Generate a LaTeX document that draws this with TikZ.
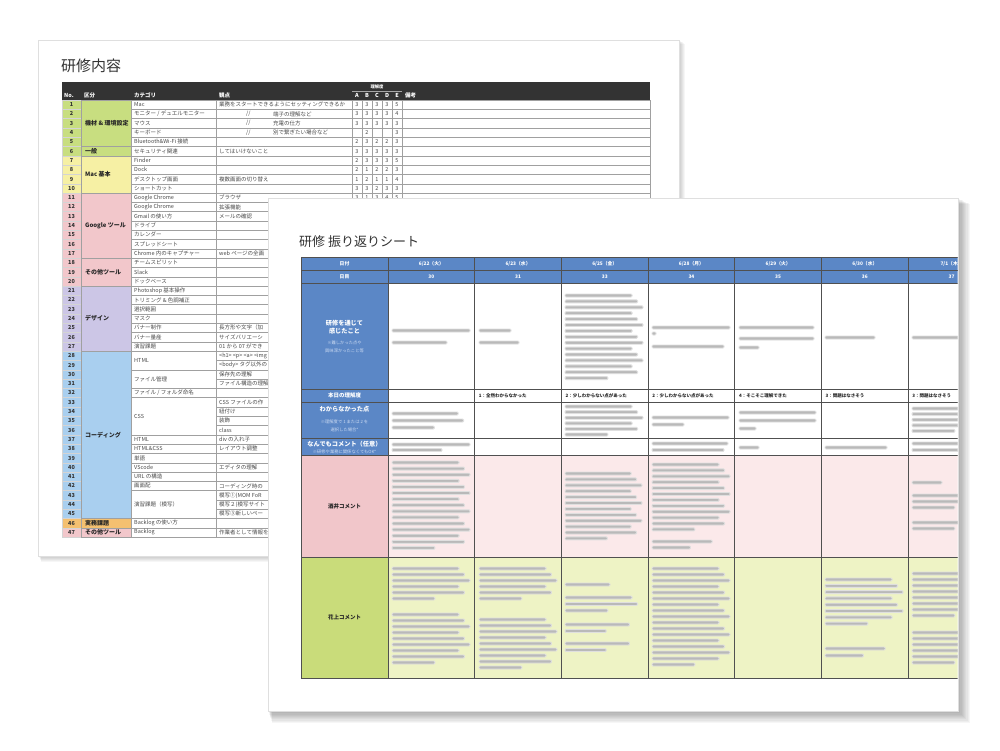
\documentclass[tikz,border=0pt]{standalone}
\usepackage{fontspec}
\setmainfont{Noto Sans CJK JP}
\usetikzlibrary{positioning}

\definecolor{hdrdark}{HTML}{333333}
\definecolor{kgreen}{HTML}{C8DE80}
\definecolor{kyellow}{HTML}{F6F0A4}
\definecolor{kpink}{HTML}{F2C7CB}
\definecolor{klav}{HTML}{CCC6E6}
\definecolor{kblue}{HTML}{A9CFEF}
\definecolor{korange}{HTML}{F4C070}
\definecolor{sblue}{HTML}{5B87C6}
\definecolor{spink}{HTML}{F1C6CA}
\definecolor{spinklt}{HTML}{FBE9EA}
\definecolor{sgreen}{HTML}{C9DC7A}
\definecolor{sgreenlt}{HTML}{EEF3C5}
\definecolor{gridc}{HTML}{A0A0A0}
\definecolor{linec}{HTML}{505050}
\definecolor{txtc}{HTML}{4A4A4A}
\definecolor{noteblue}{HTML}{CBDAF2}

\newcommand{\blurl}[3]{\fill[blurtxt] ({#1},{#2}) rectangle ++({#3},3);}
\newcommand{\blurpar}[5]{%
  \foreach \q in {1,...,#3}{%
    \pgfmathsetmacro\bw{\q==#3 ? 0.55*#5 : #5*(1-0.07*mod(\q*5,3))}%
    \blurl{#1}{#2+(\q-1)*#4}{\bw}}}

\begin{document}
\begin{tikzpicture}[x=1pt, y=-1pt,
    paper/.style={fill=white, draw=gray!25, line width=0.4pt},
    btitle/.style={anchor=west, inner sep=0, text=black!80, font=\fontsize{15}{16}\selectfont},
    ftitle/.style={anchor=west, inner sep=0, text=black!80, font=\fontsize{13}{14}\selectfont},
    hdrtxt/.style={anchor=west, inner sep=0, text=white, font=\fontsize{5.5}{6}\selectfont\bfseries},
    hdrsm/.style={inner sep=0, text=white, font=\fontsize{4.3}{5}\selectfont\bfseries},
    celltxt/.style={anchor=west, inner sep=0, text=txtc, font=\fontsize{5.5}{6}\selectfont},
    numtxt/.style={inner sep=0, text=black!80, font=\fontsize{5.5}{6}\selectfont\bfseries},
    kbtxt/.style={anchor=west, inner sep=0, text=black!85, font=\fontsize{6}{7}\selectfont\bfseries},
    abtxt/.style={inner sep=0, text=txtc, font=\fontsize{5.5}{6}\selectfont},
    gridb/.style={draw=gridc, line width=0.35pt},
    gridf/.style={draw=linec, line width=0.7pt},
    shdr/.style={inner sep=0, text=white, font=\fontsize{4.8}{5}\selectfont\bfseries},
    slabel/.style={inner sep=0, text=white, align=center, font=\fontsize{6.2}{8}\selectfont\bfseries},
    snote/.style={inner sep=0, text=noteblue, align=center, font=\fontsize{4.3}{8}\selectfont},
    sdark/.style={inner sep=0, text=black!85, font=\fontsize{5.5}{6}\selectfont\bfseries},
    lvl/.style={anchor=west, inner sep=0, text=black!85, font=\fontsize{4.5}{5}\selectfont\bfseries},
    blurtxt/.style={fill=gray!55, draw=gray!25, line width=0.9pt, rounded corners=1pt}
]
\useasboundingbox (0,0) rectangle (1000,750);
\fill[white] (0,0) rectangle (1000,750);

% back sheet
\foreach \s in {1,...,6}
  \fill[black, opacity=0.035] ({38+0.5*\s},{40+0.6*\s}) rectangle ({679+\s},{556+\s});
\filldraw[paper] (38,40) rectangle (679,556);
\node[btitle] (title-back) at (61,66) {研修内容};

\begin{scope}
\clip (30,30) -- (700,30) -- (700,198) -- (268,198) -- (268,570) -- (30,570) -- cycle;
\fill[hdrdark] (62,82) rectangle (650,100);
\draw[gray!70, line width=0.3pt] (352,91) -- (402,91);
\node[hdrsm] (h-rikai) at (377,87) {理解度};
\node[hdrtxt] (h-no) at (64,95.5) {No.};
\node[hdrtxt] (h-kubun) at (84,95.5) {区分};
\node[hdrtxt] (h-cat) at (134,95.5) {カテゴリ};
\node[hdrtxt] (h-view) at (219,95.5) {観点};
\foreach \t [count=\k] in {A,B,C,D,E}
  \node[hdrtxt, anchor=center] (h-\t) at ({347+10*\k},95.5) {\t};
\node[hdrtxt] (h-note) at (405,95.5) {備考};

\foreach \i in {1,...,47}{
  \pgfmathsetmacro\ya{100+(\i-1)*9.3}
  \draw[gridb] (216,\ya) rectangle ++(136,9.3);
  \foreach \k in {0,...,4}
    \draw[gridb] ({352+10*\k},\ya) rectangle ++(10,9.3);
  \draw[gridb] (402,\ya) rectangle ++(248,9.3);
}

\foreach \a/\b/\c in {1/6/kgreen, 7/10/kyellow, 11/20/kpink, 21/27/klav, 28/45/kblue, 46/46/korange, 47/47/kpink}
  \foreach \i in {\a,...,\b}{
    \filldraw[fill=\c, draw=white!55!gridc, line width=0.35pt] (62,{100+(\i-1)*9.3}) rectangle ++(19,9.3);
    \node[numtxt] (no-\i) at (71.5,{100+(\i-0.5)*9.3}) {\i};
  }

\foreach \a/\b/\c/\t in {1/5/kgreen/機材 \& 環境設定, 6/6/kgreen/一般, 7/10/kyellow/Mac 基本,
    11/17/kpink/Google ツール, 18/20/kpink/その他ツール, 21/27/klav/デザイン,
    28/45/kblue/コーディング, 46/46/korange/実務課題, 47/47/kpink/その他ツール}{
  \filldraw[fill=\c, gridb] (81,{100+(\a-1)*9.3}) rectangle (131,{100+\b*9.3});
  \node[kbtxt] (kb-\a) at (85,{100+(\a-1+\b)*4.65}) {\t};
}

\foreach \a/\b/\t in {1/1/Mac, 2/2/{モニター / デュエルモニター}, 3/3/マウス, 4/4/キーボード,
    5/5/Bluetooth\&Wi-Fi 接続, 6/6/セキュリティ関連, 7/7/Finder, 8/8/Dock, 9/9/デスクトップ画面,
    10/10/ショートカット, 11/11/Google Chrome, 12/12/Google Chrome, 13/13/Gmail の使い方,
    14/14/ドライブ, 15/15/カレンダー, 16/16/スプレッドシート, 17/17/Chrome 内のキャプチャー,
    18/18/チームスピリット, 19/19/Slack, 20/20/ドックベース, 21/21/Photoshop 基本操作,
    22/22/トリミング \& 色調補正, 23/23/選択範囲, 24/24/マスク, 25/25/バナー制作, 26/26/バナー量産,
    27/27/演習課題, 28/29/HTML, 30/31/ファイル管理, 32/32/{ファイル / フォルダ命名}, 33/36/CSS,
    37/37/HTML, 38/38/HTML\&CSS, 39/39/単語, 40/40/VScode, 41/41/URL の構造, 42/42/画面配,
    43/45/演習課題（模写）, 46/46/Backlog の使い方, 47/47/Backlog}{
  \filldraw[fill=white, gridb] (131,{100+(\a-1)*9.3}) rectangle (216,{100+\b*9.3});
  \node[celltxt] (cat-\a) at (134,{100+(\a-1+\b)*4.65}) {\t};
}

\foreach \i/\t in {1/業務をスタートできるようにセッティングできるか, 6/してはいけないこと,
    9/複数画面の切り替え, 11/ブラウザ, 12/拡張機能, 13/メールの確認, 17/web ページの全画,
    25/長方形や文字（加, 26/サイズバリエーシ, 27/01 から 07 ができ, 28/<h1> <p> <a> <img,
    29/<body> タグ以外の, 30/保存先の理解, 31/ファイル構造の理解, 33/CSS ファイルの作,
    34/紐付け, 35/装飾, 36/class, 37/div の入れ子, 38/レイアウト調整, 40/エディタの理解,
    42/コーディング時の, 43/模写①(MOM FoR, 44/模写２(模写サイト, 45/模写③新しいペー,
    47/作業者として情報を}
  \node[celltxt] (view-\i) at (219,{100+(\i-0.5)*9.3}) {\t};
\foreach \i/\t in {2/端子の理解など, 3/充電の仕方, 4/別で繋ぎたい場合など}{
  \node[celltxt] (sl-\i) at (246,{100+(\i-0.5)*9.3}) {//};
  \node[celltxt] (view-\i) at (273,{100+(\i-0.5)*9.3}) {\t};
}

\foreach \i/\va/\vb/\vc/\vd/\ve in {1/3/3/3/3/5, 2/3/3/3/3/4, 3/3/3/3/3/3, 4/{}/2/{}/{}/3,
    5/2/3/2/2/3, 6/3/3/3/3/3, 7/2/3/3/3/5, 8/2/1/2/2/3, 9/1/2/1/1/4, 10/3/3/2/3/3, 11/3/1/3/4/5}
  \foreach \v [count=\k] in {\va,\vb,\vc,\vd,\ve}
    \node[abtxt] (ab-\i-\k) at ({347+10*\k},{100+(\i-0.5)*9.3}) {\v};
\end{scope}

% front sheet
\foreach \s in {1,...,10}
  \fill[black, opacity=0.035] ({268+0.4*\s},{198+0.6*\s}) rectangle ({958+1.2*\s},{711+1.2*\s});
\filldraw[paper] (268,198) rectangle (958,711);
\node[ftitle] (title-front) at (299,242) {研修 振り返りシート};

\begin{scope}
\clip (268,198) rectangle (957.5,711);
\foreach \ya/\yb/\fc/\lc in {257/270.5/sblue/sblue, 270.5/283/sblue/sblue, 283/389/white/sblue,
    389/402/white/sblue, 402/438/white/sblue, 438/455/white/sblue,
    455/557/spinklt/spink, 557/678/sgreenlt/sgreen}{
  \filldraw[fill=\lc, gridf] (301,\ya) rectangle (388,\yb);
  \foreach \k in {0,...,6}
    \filldraw[fill=\fc, gridf] ({388+86.7*\k},\ya) rectangle ({388+86.7*(\k+1)},\yb);
}

\node[shdr] (lab-date) at (344.5,263.8) {日付};
\node[shdr] (lab-day) at (344.5,276.8) {日目};
\foreach \m/\dd/\w/\n [count=\k from 0] in {6/22/火/30, 6/23/水/31, 6/25/金/33, 6/28/月/34,
    6/29/火/35, 6/30/水/36, 7/1/木/37}{
  \node[shdr] (date-\k) at ({431.35+86.7*\k},263.8) {\m/\dd（\w）};
  \node[shdr] (day-\k) at ({431.35+86.7*\k},276.8) {\n};
}

\node[slabel] (lab-feel) at (344.5,327) {研修を通じて\\感じたこと};
\node[snote] (note-feel) at (344.5,347) {※難しかった点や\\興味深かったこと等};
\node[slabel, font=\fontsize{5.5}{6}\selectfont\bfseries] (lab-level) at (344.5,395.5) {本日の理解度};
\node[slabel] (lab-unclear) at (344.5,409) {わからなかった点};
\node[snote] (note-unclear) at (344.5,426) {※理解度で 1 または 2 を\\選択した場合*};
\node[slabel] (lab-free) at (344.5,444) {なんでもコメント（任意）};
\node[snote] (note-free) at (344.5,451.5) {※研修や業務に関係なくてもOK*};
\node[sdark] (lab-sakai) at (344.5,506) {酒井コメント};
\node[sdark] (lab-hanaue) at (344.5,617) {花上コメント};

\foreach \k/\t in {1/1：全然わからなかった, 2/2：少しわからない点があった, 3/2：少しわからない点があった,
    4/4：そこそこ理解できた, 5/3：問題はなさそう, 6/3：問題はなさそう}
  \node[lvl] (lvl-\k) at ({392+86.7*\k},395.5) {\t};

% blurred entries
\blurl{392}{329}{78} \blurl{392}{341}{55}
\blurl{479}{329}{32} \blurl{479}{341}{40}
\blurpar{565}{294}{15}{5.9}{78}
\blurl{652}{326}{78} \blurl{652}{332}{4} \blurl{652}{345}{72}
\blurl{739}{326}{75} \blurl{739}{337}{75} \blurl{739}{346}{20}
\blurl{825}{336}{50}
\blurl{912}{336}{50}

\blurpar{392}{412}{3}{7}{77}
\blurpar{565}{405}{6}{5.6}{78}
\blurl{652}{416}{77} \blurl{652}{423}{32}
\blurl{739}{411}{77} \blurl{739}{419}{77} \blurl{739}{427}{17}
\blurpar{912}{407}{5}{5.6}{78}

\blurl{392}{443}{78} \blurl{392}{448.5}{50}
\blurl{652}{442}{76} \blurl{652}{448.5}{72}
\blurl{739}{446}{20}
\blurl{825}{446}{62}
\blurl{912}{442}{78} \blurl{912}{448.5}{78}

\blurpar{392}{461}{15}{6.1}{78}
\blurpar{565}{472}{12}{5.9}{77}
\blurpar{652}{463}{12}{5.9}{78} \blurpar{652}{540}{2}{6}{70}
\blurl{912}{481}{30} \blurpar{912}{494}{3}{6}{78} \blurpar{912}{521}{2}{6}{78}

\blurpar{392}{567}{6}{6}{78} \blurpar{392}{613}{9}{6}{78}
\blurpar{479}{567}{6}{6}{78} \blurpar{479}{618}{9}{6}{78}
\blurl{565}{583}{45} \blurpar{565}{596}{3}{6.5}{78} \blurpar{565}{623}{2}{6.5}{75}
\blurpar{565}{642}{2}{6.5}{75}
\blurpar{652}{567}{17}{6}{78}
\blurpar{825}{578}{8}{6.3}{78} \blurpar{825}{647}{2}{7}{70}
\blurpar{912}{572}{8}{6}{78} \blurpar{912}{631}{6}{6}{78}
\end{scope}
\end{tikzpicture}
\end{document}
